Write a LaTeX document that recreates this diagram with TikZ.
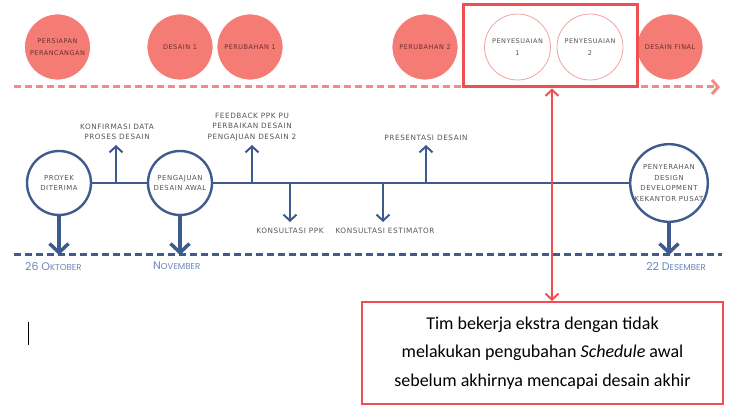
\documentclass[tikz,border=0pt]{standalone}
\usepackage{fontspec}
\setmainfont{Carlito}
\newfontfamily\lblfont[LetterSpace=8]{DejaVu Sans}
\newfontfamily\datefont{Poppins}
\usetikzlibrary{arrows.meta}
\definecolor{salmon}{HTML}{F47C74}
\definecolor{phasetext}{HTML}{6A2E2E}
\definecolor{framered}{HTML}{EF4F52}
\definecolor{dashred}{HTML}{F58A85}
\definecolor{adjborder}{HTML}{F2A3A3}
\definecolor{navy}{HTML}{3E5B8E}
\definecolor{datecol}{HTML}{6B86B8}
\definecolor{lblgray}{HTML}{555555}
\newcommand{\scdate}[2]{#1{\fontsize{8.6}{10}\selectfont #2}}
\begin{document}
\begin{tikzpicture}[x=1pt,y=-1pt,
  phase/.style={circle, fill=salmon, draw=white, line width=0.8pt,
    minimum size=66pt, inner sep=0pt, align=center, text=phasetext,
    font=\lblfont\fontsize{6.5}{11.5}\selectfont},
  adjust/.style={phase, fill=white, draw=adjborder, text=lblgray},
  event/.style={circle, draw=navy, line width=2.4pt, fill=white,
    minimum size=64pt, inner sep=0pt, align=center, text=lblgray,
    font=\lblfont\fontsize{6.9}{10.5}\selectfont},
  note/.style={align=center, text=lblgray, inner sep=0pt,
    font=\lblfont\fontsize{7.3}{10.6}\selectfont},
  datelbl/.style={text=datecol, inner sep=0pt, font=\datefont\fontsize{11}{13}\selectfont},
  tick/.style={draw=navy, line width=2pt, -{Straight Barb[length=6pt,width=13pt]}},
  drop/.style={draw=navy, line width=3.5pt, -{Straight Barb[length=9pt,width=19pt]}},
  dashline/.style={line width=3pt, dash pattern=on 7pt off 4pt},
]
\useasboundingbox (0,0) rectangle (731,406);

% phase track
\draw[dashline, draw=dashred, -{Straight Barb[length=6pt,width=14pt]}] (14,87) -- (720,87);
\node[phase] (p1) at (57.5,47) {PERSIAPAN\\PERANCANGAN};
\node[phase] (p2) at (180,47) {DESAIN 1};
\node[phase] (p3) at (250,47) {PERUBAHAN 1};
\node[phase] (p4) at (425,47) {PERUBAHAN 2};
\node[adjust] (p5) at (517.5,47) {PENYESUAIAN\\1};
\node[adjust] (p6) at (590,47) {PENYESUAIAN\\2};
\node[phase] (p7) at (670,47) {DESAIN FINAL};
\node[draw=framered, line width=3pt, minimum width=174pt, minimum height=82pt, inner sep=0pt] (frame) at (550,46) {};

% time axis
\draw[dashline, draw=navy] (14,255) -- (722,255);
\node[event] (e1) at (59,183) {PROYEK\\DITERIMA};
\node[event] (e2) at (180,183) {PENGAJUAN\\DESAIN AWAL};
\node[event] (e3) at (669,183) {PENYERAHAN\\DESIGN\\DEVELOPMENT\\KEKANTOR PUSAT};
\draw[navy, line width=2.2pt] (e1.east) -- (e2.west);
\draw[navy, line width=2.2pt] (e2.east) -- (e3.west);

\coordinate (d1) at (59,255);
\coordinate (d2) at (180,255);
\coordinate (d3) at (669,255);
\draw[drop] (e1.south) -- (d1);
\draw[drop] (e2.south) -- (d2);
\draw[drop] (e3.south) -- (d3);

% activities along the axis
\coordinate (t1) at (116,183);
\coordinate (t2) at (252,183);
\coordinate (t3) at (290,183);
\coordinate (t4) at (383,183);
\coordinate (t5) at (426,183);
\node[note, anchor=south] (n1) at (117,140) {KONFIRMASI DATA\\PROSES DESAIN};
\node[note, anchor=south] (n2) at (252,141) {FEEDBACK PPK PU\\PERBAIKAN DESAIN\\PENGAJUAN DESAIN 2};
\node[note, anchor=north] (n3) at (290,228) {KONSULTASI PPK};
\node[note, anchor=north] (n4) at (385,228) {KONSULTASI ESTIMATOR};
\node[note, anchor=south] (n5) at (426,141) {PRESENTASI DESAIN};
\draw[tick] (t1) -- (t1 |- 0,145);
\draw[tick] (t2) -- (t2 |- 0,145);
\draw[tick] (t3) -- (t3 |- 0,222);
\draw[tick] (t4) -- (t4 |- 0,222);
\draw[tick] (t5) -- (t5 |- 0,145);

\node[datelbl, anchor=west] (m1) at (25,266) {\scdate{26 O}{KTOBER}};
\node[datelbl, anchor=west] (m2) at (153,266) {\scdate{N}{OVEMBER}};
\node[datelbl, anchor=east] (m3) at (706,266) {\scdate{22 D}{ESEMBER}};

% remark
\node[draw=framered, line width=2pt, minimum width=361pt, minimum height=102pt,
  inner sep=0pt, align=center, text=black, font=\fontsize{18}{28.5}\selectfont]
  (remark) at (542.5,353)
  {Tim bekerja ekstra dengan tidak\\melakukan pengubahan \textit{Schedule} awal\\sebelum akhirnya mencapai desain akhir};
\coordinate (ax) at (552,0);
\draw[framered, line width=2pt, {Straight Barb[length=6pt,width=13pt]}-{Straight Barb[length=6pt,width=13pt]}]
  (frame.south -| ax) -- (remark.north -| ax);

% text cursor
\draw[black, line width=0.8pt] (28,322) -- (28,345);
\end{tikzpicture}
\end{document}
